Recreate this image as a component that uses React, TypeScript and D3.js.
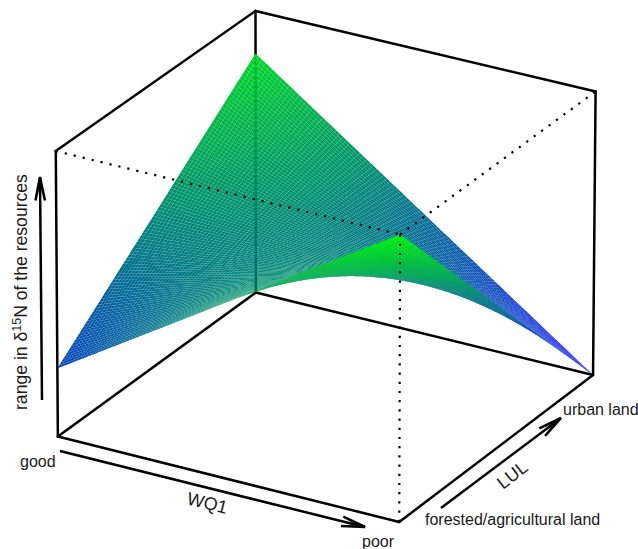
import React from "react";
import * as d3 from "d3";

// Axis categories
const wqLevels = ["good", "poor"];
const lulLevels = ["forested/agricultural land", "urban land"];
const zTitleParts = ["range in δ", "15", "N of the resources"];
// Surface heights at the corners: [lul][wq]
const forestedHeights = [0.24, 1.0];
const urbanHeights = [0.85, 0.0];
const colourStops = ["#0000ff", "#00ff00"];
const meshCells = 100;

// Camera calibration from the box corners: [x, y, z, px, py]
const boxCalibration = [
  [0, 0, 0, 58, 437],
  [0, 0, 1, 56, 151],
  [0, 1, 0, 256, 292],
  [0, 1, 1, 255, 11],
  [1, 0, 0, 399, 522],
  [1, 0, 1, 400, 234],
  [1, 1, 0, 593, 375],
  [1, 1, 1, 596, 92],
];

function solve(A: number[][], b: number[]) {
  const n = b.length;
  const M = A.map((r, i) => [...r, b[i]]);
  for (let i = 0; i < n; i++) {
    let p = i;
    for (let k = i + 1; k < n; k++) if (Math.abs(M[k][i]) > Math.abs(M[p][i])) p = k;
    [M[i], M[p]] = [M[p], M[i]];
    for (let k = 0; k < n; k++) {
      if (k === i) continue;
      const f = M[k][i] / M[i][i];
      for (let j = i; j <= n; j++) M[k][j] -= f * M[i][j];
    }
  }
  return M.map((r, i) => r[n] / r[i]);
}

function fitCamera() {
  const rows: number[][] = [];
  const rhs: number[] = [];
  for (const [x, y, z, u, v] of boxCalibration) {
    rows.push([x, y, z, 1, 0, 0, 0, 0, -u * x, -u * y, -u * z]);
    rhs.push(u);
    rows.push([0, 0, 0, 0, x, y, z, 1, -v * x, -v * y, -v * z]);
    rhs.push(v);
  }
  const n = 11;
  const AtA = d3.range(n).map((i) => d3.range(n).map((j) => d3.sum(rows, (r) => r[i] * r[j])));
  const Atb = d3.range(n).map((i) => d3.sum(rows, (r, k) => r[i] * rhs[k]));
  return solve(AtA, Atb);
}

const cam = fitCamera();
const project = (x: number, y: number, z: number): [number, number] => {
  const w = cam[8] * x + cam[9] * y + cam[10] * z + 1;
  return [
    (cam[0] * x + cam[1] * y + cam[2] * z + cam[3]) / w,
    (cam[4] * x + cam[5] * y + cam[6] * z + cam[7]) / w,
  ];
};

const colour = d3.scaleLinear<string>().domain([0, 1]).range(colourStops).interpolate(d3.interpolateRgb);
const height = (x: number, y: number) => {
  const low = d3.interpolateNumber(forestedHeights[0], forestedHeights[1])(x);
  const high = d3.interpolateNumber(urbanHeights[0], urbanHeights[1])(x);
  return d3.interpolateNumber(low, high)(y);
};

const line = d3.line();
const pts = (...c: number[][]) => line(c.map((p) => project(p[0], p[1], p[2])));

const solidEdges = [
  [[0, 0, 0], [0, 1, 0]],
  [[0, 1, 0], [1, 1, 0]],
  [[0, 1, 0], [0, 1, 1]],
  [[0, 0, 0], [1, 0, 0]],
  [[1, 0, 0], [1, 1, 0]],
  [[0, 0, 0], [0, 0, 1]],
  [[0, 0, 1], [0, 1, 1]],
  [[0, 1, 1], [1, 1, 1]],
  [[1, 1, 0], [1, 1, 1]],
];
const dottedEdges = [
  [[0, 0, 1], [1, 0, 1]],
  [[1, 0, 1], [1, 1, 1]],
  [[1, 0, 1], [1, 0, 0]],
];

function Arrow({ from, to }: { from: [number, number]; to: [number, number] }) {
  const a = Math.atan2(to[1] - from[1], to[0] - from[0]);
  const barb = (s: number): [number, number] => [
    to[0] - 24 * Math.cos(a + s * 0.2),
    to[1] - 24 * Math.sin(a + s * 0.2),
  ];
  const notch: [number, number] = [to[0] - 12 * Math.cos(a), to[1] - 12 * Math.sin(a)];
  return (
    <g stroke="#000" fill="none">
      <path d={line([from, to]) as string} strokeWidth={2.5} />
      <path d={line([barb(1), to, barb(-1)]) as string} strokeWidth={2.5} />
      <path d={line([barb(1), to, barb(-1), notch]) + "Z"} fill="#000" stroke="none" opacity={0.35} />
    </g>
  );
}

export default function App() {
  const s = d3.scaleLinear().domain([0, meshCells]).range([0, 1]);
  const cells: React.ReactNode[] = [];
  for (let j = meshCells - 1; j >= 0; j--) {
    for (let i = 0; i < meshCells; i++) {
      const c = [
        [s(i), s(j)],
        [s(i + 1), s(j)],
        [s(i + 1), s(j + 1)],
        [s(i), s(j + 1)],
      ];
      const d = line(c.map(([x, y]) => project(x, y, height(x, y)))) + "Z";
      cells.push(<path key={`${i}-${j}`} d={d} fill={colour(height(s(i + 0.5), s(j + 0.5)))} />);
    }
  }
  const font = "'Liberation Sans', Arial, sans-serif";
  return (
    <svg width={638} height={549} style={{ position: "absolute", left: 0, top: 0 }} fontFamily={font} fill="#1a1a1a">
      <g stroke="#000" strokeWidth={2.5} fill="none" strokeLinecap="round">
        {solidEdges.map((e, i) => <path key={i} d={pts(...e) as string} />)}
      </g>
      <g>{cells}</g>
      <g stroke="#000" strokeWidth={2.2} fill="none" strokeDasharray="2.2 7">
        {dottedEdges.map((e, i) => <path key={i} d={pts(...e) as string} />)}
      </g>
      <Arrow from={[60, 451]} to={[365, 527]} />
      <Arrow from={[441, 508]} to={[561, 418]} />
      <Arrow from={[42, 400]} to={[40, 177]} />
      <text x={20} y={467} fontSize={16}>{wqLevels[0]}</text>
      <text x={362} y={547} fontSize={16}>{wqLevels[1]}</text>
      <text x={425} y={525} fontSize={16}>{lulLevels[0]}</text>
      <text x={563} y={415} fontSize={16}>{lulLevels[1]}</text>
      <text transform="translate(186,504) rotate(14)" fontSize={18}>WQ1</text>
      <text transform="translate(503,490) rotate(-38)" fontSize={18}>LUL</text>
      <text transform="translate(27,410) rotate(-90)" fontSize={17.6}>
        {zTitleParts[0]}
        <tspan dy={-6} fontSize={12.5}>{zTitleParts[1]}</tspan>
        <tspan dy={6}>{zTitleParts[2]}</tspan>
      </text>
    </svg>
  );
}
